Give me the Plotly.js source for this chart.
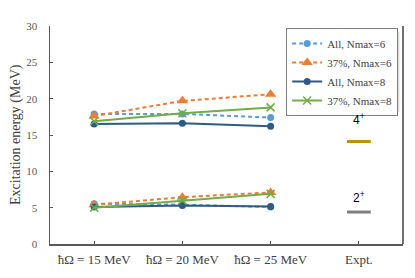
<!DOCTYPE html>
<html>
<head>
<meta charset="utf-8">
<script src="https://cdn.plot.ly/plotly-3.0.1.min.js"></script>
<style>html,body{margin:0;padding:0;background:#fff;}#chart{width:415px;height:278px;}</style>
</head>
<body>
<div id="chart"></div>
<script>
var categories = ["ħΩ = 15 MeV", "ħΩ = 20 MeV", "ħΩ = 25 MeV", "Expt."];
var calcX = [0, 1, 2];

// 4+ state (upper group) and 2+ state (lower group)
var all6_4 = [17.9, 17.9, 17.4];
var all6_2 = [5.55, 5.4, 5.1];
var p37_6_4 = [17.6, 19.7, 20.6];
var p37_6_2 = [5.4, 6.45, 7.1];
var all8_4 = [16.5, 16.6, 16.2];
var all8_2 = [5.1, 5.3, 5.15];
var p37_8_4 = [16.9, 18.0, 18.8];
var p37_8_2 = [5.0, 6.0, 6.9];

var exptX = 3;
var expt4 = 14.1;
var expt2 = 4.4;
var exptLabels = ["4<sup>+</sup>", "2<sup>+</sup>"];

var series = [
  {name: "All, Nmax=6", up: all6_4, lo: all6_2, color: "#5B9BD5", dash: "4px,3px", symbol: "circle", size: 7},
  {name: "37%, Nmax=6", up: p37_6_4, lo: p37_6_2, color: "#ED7D31", dash: "4px,3px", symbol: "triangle-up", size: 10},
  {name: "All, Nmax=8", up: all8_4, lo: all8_2, color: "#2E5A88", dash: "solid", symbol: "circle", size: 7},
  {name: "37%, Nmax=8", up: p37_8_4, lo: p37_8_2, color: "#70AD47", dash: "solid", symbol: "x-thin-open", size: 8}
];

var traces = [];
series.forEach(function(s){
  var mk = {symbol: s.symbol, size: s.size, color: s.color};
  if (s.symbol.indexOf("x") === 0) mk.line = {color: s.color, width: 1.5};
  traces.push({x: calcX.concat([null]).concat(calcX), y: s.up.concat([null]).concat(s.lo),
    type: "scatter", mode: "lines+markers", name: s.name, connectgaps: false,
    line: {color: s.color, width: 2, dash: s.dash}, marker: mk});
});
traces.push({x: [exptX], y: [expt4], type: "scatter", mode: "markers", showlegend: false, hoverinfo: "y",
  marker: {symbol: "line-ew", size: 17, line: {color: "#BF9000", width: 3}}});
traces.push({x: [exptX], y: [expt2], type: "scatter", mode: "markers", showlegend: false, hoverinfo: "y",
  marker: {symbol: "line-ew", size: 17, line: {color: "#7F7F7F", width: 3}}});

var layout = {
  width: 415, height: 278,
  margin: {l: 50, r: 12, t: 26, b: 34},
  paper_bgcolor: "#fff", plot_bgcolor: "#fff",
  font: {family: "Liberation Serif, Times New Roman, serif", color: "#404040"},
  showlegend: true,
  legend: {x: 0.669, y: 0.991, xanchor: "left", yanchor: "top", bgcolor: "#fff", bordercolor: "#7F7F7F", borderwidth: 1,
    font: {size: 11, color: "#404040"}, itemwidth: 30, tracegroupgap: 0},
  xaxis: {range: [-0.5, 3.5], tickvals: [0, 1, 2, 3], ticktext: categories, showgrid: false, zeroline: false,
    showline: true, linecolor: "#595959", linewidth: 1.5, ticks: "inside", ticklen: 3, tickcolor: "#595959",
    tickfont: {size: 13, color: "#404040"}, ticklabelstandoff: 3, fixedrange: true},
  yaxis: {range: [0, 30], dtick: 5, showgrid: false, zeroline: false, showline: true, linecolor: "#595959", linewidth: 1.5,
    ticks: "inside", ticklen: 3, tickcolor: "#595959", tickfont: {size: 11, color: "#595959"}, ticklabelstandoff: 9, fixedrange: true},
  shapes: [
    {type: "line", xref: "paper", yref: "paper", x0: 1, x1: 1, y0: 0, y1: 1, line: {color: "#404040", width: 1.5}},
    {type: "rect", xref: "paper", yref: "paper", x0: 0.678, x1: 0.99, y0: 0.605, y1: 0.975, layer: "above",
      fillcolor: "rgba(0,0,0,0.12)", line: {width: 0}},
    {type: "rect", xref: "paper", yref: "paper", x0: 0.674, x1: 0.983, y0: 0.612, y1: 0.98, layer: "above",
      fillcolor: "rgba(0,0,0,0.15)", line: {width: 0}}
  ],
  annotations: [
    {text: "Excitation energy (MeV)", xref: "paper", yref: "paper", x: 0, y: 0.5, xshift: -34, textangle: -90,
      showarrow: false, xanchor: "center", yanchor: "middle", font: {size: 14, color: "#404040"}},
    {text: exptLabels[0], x: exptX, y: expt4, yshift: 23, showarrow: false, font: {family: "Liberation Sans, Arial, sans-serif", size: 12, color: "#000"}},
    {text: exptLabels[1], x: exptX, y: expt2, yshift: 15, showarrow: false, font: {family: "Liberation Sans, Arial, sans-serif", size: 12, color: "#000"}}
  ]
};

Plotly.newPlot("chart", traces, layout, {displayModeBar: false, staticPlot: true});
</script>
</body>
</html>
